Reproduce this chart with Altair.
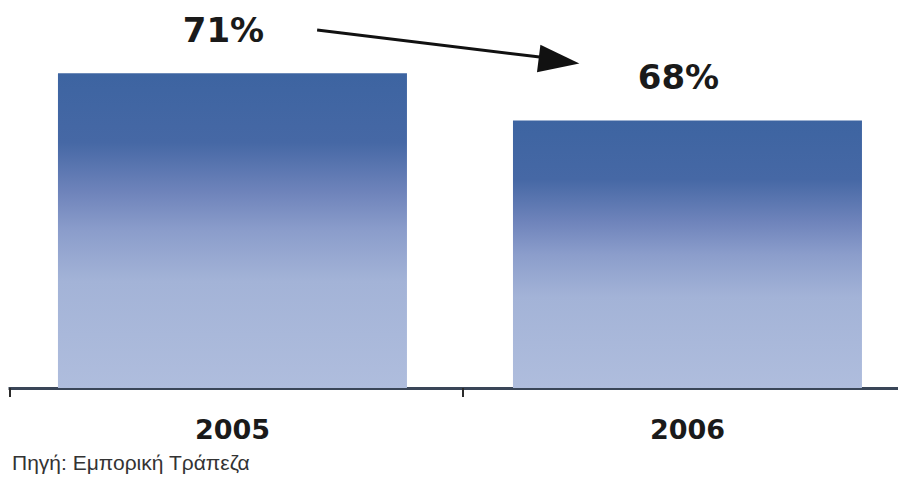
import altair as alt
import pandas as pd

# ---- data ----
years = ["2005", "2006"]
shares = [71, 68]
share_labels = ["71%", "68%"]

# category boundaries (in category units) where the axis ticks sit
tick_units = [0, 1, 2]

# annotation arrow, in (category units, value units)
arrow_x = [0.678, 1.188]
arrow_y = [73.75, 71.97]
arrow_head_x = [1.212]
arrow_head_y = [71.78]

source_text = "Πηγή: Εμπορική Τράπεζα"

Y_DOMAIN = [51, 75.15]
W, H = 890, 380

bars_df = pd.DataFrame({"year": years, "share": shares, "label": share_labels})
ticks_df = pd.DataFrame({"u": tick_units})
arrow_df = pd.DataFrame({"x": [arrow_x[0]], "x2": [arrow_x[1]],
                         "y": [arrow_y[0]], "y2": [arrow_y[1]]})
head_df = pd.DataFrame({"x": arrow_head_x, "y": arrow_head_y})

yscale = alt.Scale(domain=Y_DOMAIN, zero=False, nice=False)
xband = alt.Scale(paddingInner=0.233, paddingOuter=0.0945, align=0.581)
xq = alt.Scale(domain=[-0.0044, 1.9603], zero=False, nice=False)

grad = alt.Gradient(
    gradient="linear",
    stops=[
        alt.GradientStop(color="#3d64a1", offset=0),
        alt.GradientStop(color="#4668a5", offset=0.22),
        alt.GradientStop(color="#6f84bb", offset=0.38),
        alt.GradientStop(color="#8b9dcb", offset=0.5),
        alt.GradientStop(color="#a3b3d7", offset=0.66),
        alt.GradientStop(color="#afbddd", offset=1),
    ],
    x1=0, x2=0, y1=0, y2=1,
)

xaxis = alt.Axis(
    title=None, ticks=False, tickSize=0, labelAngle=0,
    domain=True, domainColor="#3a4658", domainWidth=3,
    labelFont="DejaVu Sans", labelFontWeight="bold", labelFontSize=27,
    labelColor="#1a1a1a", labelPadding=29, grid=False,
)

bars = alt.Chart(bars_df).mark_bar(color=grad).encode(
    x=alt.X("year:N", scale=xband, axis=xaxis),
    y=alt.Y("share:Q", scale=yscale, axis=None),
    y2=alt.datum(Y_DOMAIN[0]),
)

labels = alt.Chart(bars_df).mark_text(
    font="DejaVu Sans", fontWeight="bold", fontSize=34, color="#1a1a1a",
    baseline="middle", dy=-41.5, dx=-9,
).encode(
    x=alt.X("year:N", scale=xband, axis=xaxis),
    y=alt.Y("share:Q", scale=yscale, axis=None),
    text="label:N",
)

inner = alt.layer(bars, labels)

ticks = alt.Chart(ticks_df).mark_rule(color="#2b2b2b", strokeWidth=2).encode(
    x=alt.X("u:Q", scale=xq, axis=None),
    y=alt.value(H),
    y2=alt.value(H + 9),
)

arrow_line = alt.Chart(arrow_df).mark_rule(color="#111111", strokeWidth=3).encode(
    x=alt.X("x:Q", scale=xq, axis=None),
    x2="x2:Q",
    y=alt.Y("y:Q", scale=yscale, axis=None),
    y2="y2:Q",
)

arrow_head = alt.Chart(head_df).mark_point(
    shape="M -1 -0.68 L 1 0 L -1 0.68 Z", filled=True, size=1681,
    angle=7, color="#111111", opacity=1, strokeWidth=0,
).encode(
    x=alt.X("x:Q", scale=xq, axis=None),
    y=alt.Y("y:Q", scale=yscale, axis=None),
)

overlay = alt.layer(ticks, arrow_line, arrow_head)

chart = alt.layer(inner, overlay).resolve_scale(x="independent").properties(
    width=W, height=H,
    padding={"left": 0, "top": 0, "right": 0, "bottom": 88},
    autosize=alt.AutoSizeParams(type="none"),
    title=alt.TitleParams(
        text=source_text, orient="bottom", anchor="start", frame="group",
        font="Liberation Sans", fontSize=21, fontWeight="normal",
        color="#333333", offset=10, dx=4,
    ),
).configure(background="white").configure_view(stroke=None)

chart.save("out.html", embed_options={"renderer": "svg", "actions": False})
